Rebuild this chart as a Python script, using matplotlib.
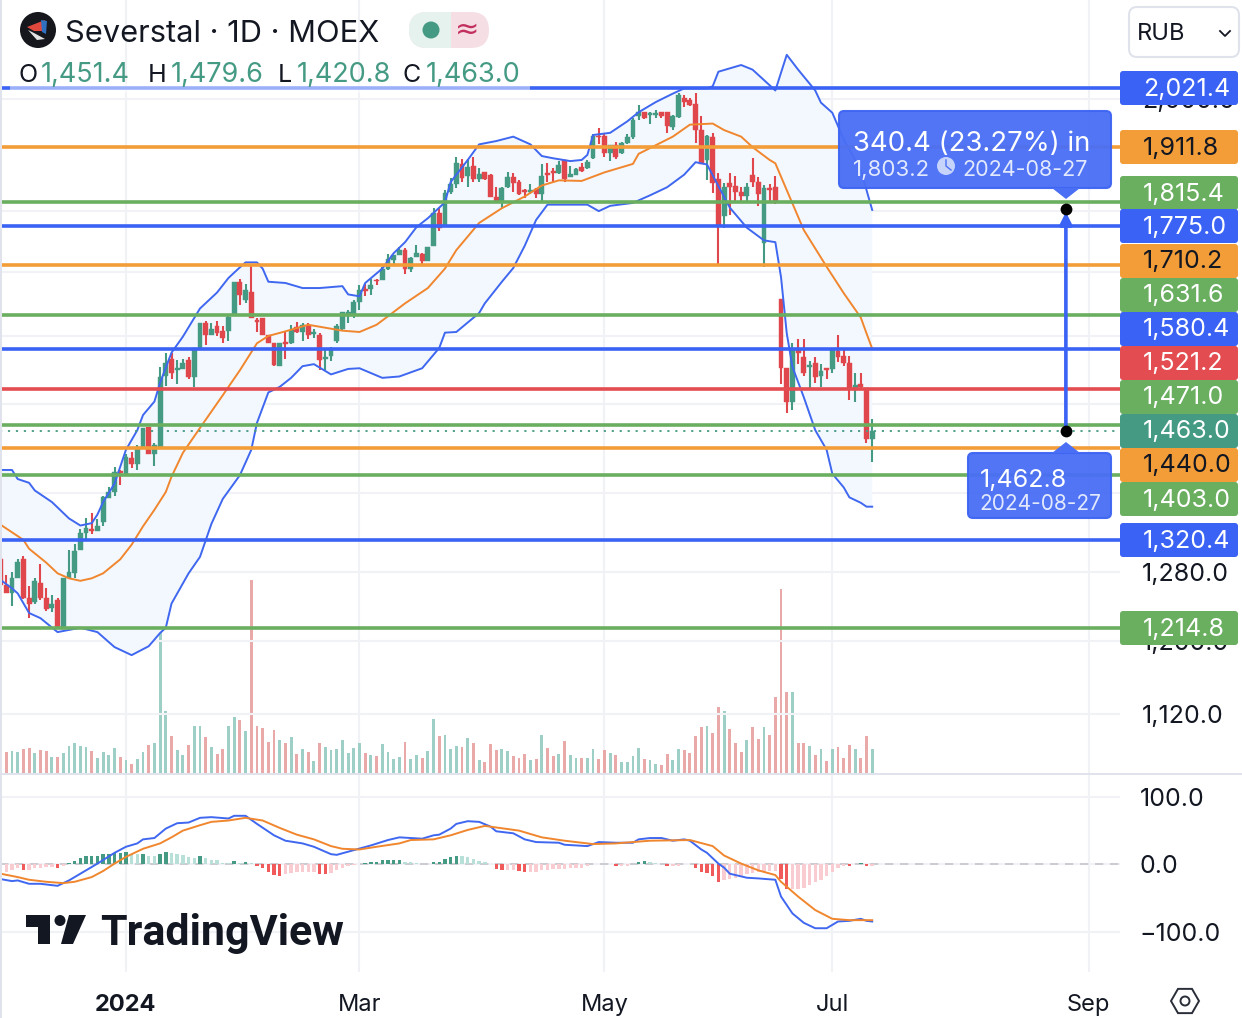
#! /usr/bin/env python

import numpy as np
import matplotlib
matplotlib.use('Agg')
import matplotlib.pyplot as plt
from matplotlib.patches import FancyBboxPatch, Rectangle, Circle, Polygon
from matplotlib.ticker import NullLocator

W, H = 1242, 1018
plt.rcParams['font.family'] = ['Inter', 'DejaVu Sans']

# first bar is the one cut off by the left edge, it has index -1
opens = [1297,
         1265,1255,1273,1297,1250,1245,1267,1249,1238,1247,
         1214,1273,1279,1308,1328,1334,1331,1342,1373,1381,
         1409,1403,1426,1418,1441,1468,1432,1441,1541,1565,
         1550,1551,1564,1539,1582,1619,1602,1615,1607,1607,
         1632,1684,1655,1667,1624,1627,1601,1590,1555,1591,
         1590,1613,1606,1615,1603,1601,1566,1570,1592,1610,
         1634,1634,1652,1673,1672,1687,1686,1704,1719,1727,
         1735,1704,1724,1728,1717,1741,1796,1776,1832,1847,
         1881,1860,1878,1856,1867,1862,1824,1815,1841,1859,
         1851,1836,1832,1838,1829,1866,1869,1866,1889,1859,
         1862,1876,1875,1892,1933,1932,1901,1916,1901,1919,
         1930,1969,1976,1971,1971,1976,1976,1948,1967,2002,
         1998,1991,1943,1889,1930,1855,1791,1848,1843,1832,
         1825,1862,1850,1746,1840,1841,1656,1553,1503,1580,
         1568,1554,1560,1541,1552,1551,1577,1570,1560,1520,
         1529,1523,1451.4]
closes = [1265,
          1255,1273,1293,1250,1243,1270,1250,1237,1243,1214,
          1273,1281,1306,1328,1335,1331,1338,1374,1381,1407,
          1406,1427,1418,1441,1467,1432,1443,1539,1560,1545,
          1552,1560,1539,1582,1619,1602,1611,1605,1597,1629,
          1684,1663,1671,1627,1621,1601,1589,1557,1589,1588,
          1609,1606,1617,1601,1606,1564,1569,1580,1615,1636,
          1637,1652,1671,1669,1679,1685,1704,1720,1727,1735,
          1704,1722,1730,1717,1740,1796,1772,1831,1847,1883,
          1858,1876,1855,1865,1855,1824,1815,1840,1859,1848,
          1830,1832,1836,1829,1860,1862,1866,1880,1855,1864,
          1873,1870,1885,1932,1930,1901,1916,1895,1919,1930,
          1961,1976,1965,1974,1975,1969,1950,1969,2008,1996,
          1989,1943,1882,1932,1848,1776,1841,1841,1832,1825,
          1841,1851,1830,1840,1836,1817,1553,1503,1580,1574,
          1545,1557,1539,1548,1549,1579,1568,1560,1522,1527,
          1525,1451.4,1463]
highs = [1299,
         1277,1280,1297,1300,1264,1273,1290,1261,1253,1249,
         1273,1308,1315,1334,1348,1354,1346,1376,1387,1414,
         1410,1431,1434,1444,1467,1468,1446,1554,1574,1574,
         1564,1565,1568,1582,1620,1622,1619,1622,1615,1630,
         1684,1688,1681,1711,1628,1627,1601,1590,1589,1607,
         1617,1621,1620,1620,1610,1604,1580,1583,1618,1636,
         1640,1655,1679,1681,1688,1688,1708,1728,1727,1740,
         1738,1724,1743,1730,1740,1805,1805,1836,1857,1894,
         1891,1891,1895,1875,1868,1864,1841,1842,1868,1866,
         1853,1838,1846,1840,1881,1883,1875,1887,1889,1878,
         1875,1883,1889,1936,1947,1938,1916,1921,1921,1936,
         1966,1990,1977,1977,1981,1977,1977,1971,2012,2008,
         2002,2012,1969,1934,1938,1866,1848,1866,1861,1841,
         1848,1892,1859,1845,1847,1861,1656,1553,1589,1595,
         1595,1563,1569,1558,1552,1582,1601,1580,1570,1545,
         1545,1523,1479.6]
lows = [1265,
        1255,1240,1273,1248,1226,1243,1247,1234,1233,1214,
        1214,1273,1273,1308,1320,1327,1331,1337,1373,1376,
        1390,1403,1412,1410,1441,1432,1415,1441,1526,1536,
        1529,1551,1537,1525,1579,1586,1601,1600,1590,1592,
        1632,1647,1650,1627,1606,1601,1589,1556,1555,1566,
        1588,1605,1592,1595,1597,1549,1549,1563,1590,1608,
        1619,1627,1639,1661,1663,1679,1686,1702,1709,1727,
        1696,1699,1724,1709,1717,1741,1766,1776,1830,1839,
        1850,1841,1850,1850,1853,1824,1813,1805,1839,1832,
        1828,1822,1830,1823,1813,1850,1850,1865,1850,1859,
        1862,1868,1873,1890,1918,1894,1887,1890,1900,1917,
        1926,1961,1963,1954,1966,1966,1937,1943,1965,1985,
        1987,1919,1882,1853,1831,1711,1771,1794,1815,1813,
        1815,1841,1808,1707,1813,1812,1529,1488,1492,1558,
        1541,1521,1530,1525,1537,1545,1561,1556,1506,1503,
        1520,1447,1420.8]
volumes = [20,
           21,22,21,24,25,20,23,22,16,16,
           20,27,30,27,26,22,15,21,18,25,
           16,13,9,14,21,28,30,151,62,37,
           23,18,28,47,47,36,26,19,24,47,
           56,53,42,193,47,45,31,43,33,30,
           36,19,24,21,12,30,26,23,24,33,
           20,25,30,20,18,17,29,21,14,16,
           31,14,18,15,22,54,37,38,24,27,
           26,35,30,13,11,29,23,24,22,17,
           15,19,13,14,38,25,17,19,32,18,
           15,15,15,24,14,23,20,18,11,11,
           17,25,14,13,9,8,19,13,24,23,
           20,37,46,47,40,66,62,44,30,21,
           33,46,34,46,38,76,184,81,81,30,
           30,27,18,24,12,24,26,15,28,24,
           15,37,24]
hist = [-12,
        -11,-9,-6,-8,-8,-5,-5,-4,-4,-6,
        -2,2,5,10,12,13,13,15,16,17,
        17,18,16,15,16,13,12,16,18,17,
        16,14,11,10,12,10,7,6,2.5,1.5,
        5,2.5,4,2,-3,-6,-12,-16,-18,-15,
        -13,-12,-11,-11,-11,-14,-15,-13,-9,-6,
        -3,-1.5,1,2,4,4,6,7,7,7,
        4,3,2,1,1,4,4,8,11,13,
        12,11,8,5,3,1,-7,-8,-8,-8,
        -10,-11,-11,-11,-9,-8,-7,-7,-7,-5,
        -5,-5,-3,1,1,1,1,-2,-2,-2,
        1,4,5,4,2,1,-3,-3,-2,1,
        1,-6,-11,-13,-18,-26,-24,-22,-21,-19,
        -15,-13,-12,-12,-10,-10,-22,-37,-37,-36,
        -35,-31,-27,-24,-18,-12,-5,-2,-3,1,
        2,-3,-3]

upper_i = [-1,1,2,4,5,8,9,11,13,15,16,17,19,21,23,24,26,27,28,29,31,34,37,39,41,42,44,45,46,49,
           52,55,59,60,62,63,66,68,70,72,74,77,78,81,83,86,89,92,94,96,99,101,102,103,106,109,
           111,114,117,119,121,123,124,125,129,131,135,137,139,142,143,145,147,150,152]
upper = [1410,1410,1398,1393,1383,1368,1361,1347,1338,1341,1352,1368,1392,1437,1464,1485,1504,1531,
         1553,1575,1599,1642,1667,1690,1707,1715,1715,1705,1684,1682,1674,1674,1677,1664,1661,1682,
         1705,1730,1748,1773,1788,1815,1850,1889,1917,1923,1931,1917,1896,1892,1887,1889,1898,1934,
         1938,1959,1976,1995,2011,2021,2021,2021,2025,2053,2066,2057,2017,2086,2057,2017,1994,1975,
         1926,1871,1802]
lower_i = [-1,1,2,4,6,9,13,16,19,22,25,27,28,29,32,34,36,38,41,43,44,46,48,50,52,54,57,60,62,66,69,
           73,76,77,79,83,84,87,89,91,93,95,102,104,106,110,113,116,119,121,123,127,130,133,135,136,
           137,138,140,142,144,145,147,148,150,151,152]
lower = [1271,1261,1255,1232,1226,1210,1215,1210,1193,1184,1194,1209,1215,1243,1279,1299,1340,1372,
         1403,1437,1474,1517,1525,1538,1555,1558,1543,1551,1552,1538,1540,1552,1582,1605,1606,1635,
         1650,1684,1706,1742,1785,1811,1811,1800,1809,1814,1827,1841,1863,1885,1881,1806,1772,1751,
         1748,1691,1604,1554,1510,1464,1437,1405,1387,1374,1367,1362,1362]
basis_i = [-1,3,4,7,9,11,13,15,17,20,22,24,26,28,29,31,34,38,41,44,46,49,53,55,59,62,65,67,70,74,77,
           79,83,87,91,94,97,101,105,110,111,117,120,124,126,129,131,134,135,137,140,144,147,150,151,152]
basis = [1339,1320,1309,1292,1279,1273,1270,1273,1279,1296,1314,1337,1358,1381,1401,1433,1467,1513,
         1549,1589,1600,1607,1617,1614,1608,1606,1617,1630,1650,1674,1705,1735,1780,1805,1825,1844,
         1853,1852,1867,1882,1900,1931,1953,1955,1943,1931,1912,1889,1883,1836,1768,1708,1666,1628,
         1604,1581]

macd_i = [-1,1,2,4,6,9,11,14,16,19,21,23,24,26,28,30,32,34,36,39,40,42,44,47,49,52,54,57,58,61,64,67,
          69,73,75,76,78,79,81,83,85,86,89,91,93,97,98,102,104,107,110,111,113,115,117,119,120,122,
          123,125,126,127,130,132,135,136,138,140,142,144,146,148,150,151,152]
macd = [-22,-25,-24,-29,-29,-32,-24,-9,1,17,26,31,37,39,53,61,62,69,70,68,72,72,60,43,35,31,26,15,14,
        21,28,36,40,38,43,44,53,60,64,63,56,49,46,37,33,32,29,27,33,32,32,37,39,39,35,37,35,22,17,1,
        -5,-14,-20,-21,-23,-48,-73,-87,-95,-95,-85,-84,-81,-84,-85]
signal_i = [-1,2,4,7,10,12,15,17,19,21,24,27,29,31,34,36,39,42,45,48,51,54,57,59,62,65,69,71,75,78,81,
            84,90,94,98,103,107,113,120,124,126,129,132,135,136,139,142,145,148,150,152]
signal = [-14,-19,-23,-26,-28,-26,-19,-10,1,11,23,31,40,50,58,63,65,69,65,54,44,37,27,23,22,26,31,36,
          37,43,51,57,50,40,35,30,31,35,36,27,13,1,-9,-16,-26,-48,-68,-81,-83,-83,-83]

levels = [2021.4,1911.8,1815.4,1775.0,1710.2,1631.6,1580.4,1521.2,1471.0,1440.0,1403.0,1320.4,1214.8]
level_kinds = ['blue','orange','green','blue','orange','green','blue','red','green','orange','green','blue','green']
last_price = 1463.0
projection_from = 1462.8
projection_to = 1803.2
projection_bar = 186

tick_bars = [21,62,105,145,190]
tick_names = ['2024','Mar','May','Jul','Sep']
price_ticks = [1120,1200,1280,1380,1500,1600,1700,1800,2000]
price_tick_labels = ['1,120.0','1,200.0','1,280.0','','','','','','2,000.0']
macd_ticks = [100,0,-100]

kinds = {'blue':'#3a62f4','orange':'#f29d38','green':'#6aae60','red':'#e34c50'}
up, down = '#459a84', '#e0474c'
text_dark = '#131722'
grid_c = '#f1f2f5'

fig = plt.figure(figsize=(W/100,H/100), dpi=100, facecolor='white')
def pane(top, bottom):
    return fig.add_axes([0, 1-bottom/H, 1120/W, (bottom-top)/H])

n = len(closes)
bars = np.arange(n) - 1
xlim = (-1.106, 195.5)

# volume sits under the candles in the same pane
ax_vol = pane(0, 775)
ax = pane(0, 775)
ax_m = pane(775, 972)
ax.patch.set_visible(False)
for a in (ax_vol, ax, ax_m):
    a.set_xlim(xlim)
    for s in a.spines.values():
        s.set_visible(False)
    a.tick_params(length=0)

o, c, hi, lo = map(np.array, (opens, closes, highs, lows))
rising = c >= o

ax_vol.set_ylim(-2, 773)
ax_vol.set_yticks([])
ax_vol.set_xticks(tick_bars)
ax_vol.set_xticklabels([])
ax_vol.grid(axis='x', color=grid_c, lw=1.5)
ax_vol.set_axisbelow(True)
ax_vol.bar(bars, volumes, width=0.5, color=np.where(rising, '#9dcfc6', '#e9a9a9'))

ax.set_yscale('log')
ax.set_ylim(1057.4, 2196.7)
ax.yaxis.tick_right()
ax.yaxis.set_major_locator(plt.FixedLocator(price_ticks))
ax.yaxis.set_minor_locator(NullLocator())
ax.set_yticklabels(price_tick_labels, fontsize=18, color=text_dark, ha='left')
ax.tick_params(axis='y', pad=16, which='both', length=0)
ax.set_xticks([])
for t in price_ticks:
    ax.axhline(t, color=grid_c, lw=1.5, zorder=0.5)

# bollinger band
ax.fill(np.r_[upper_i, lower_i[::-1]], np.r_[upper, lower[::-1]], color='#f3f8fe', lw=0, zorder=1)
ax.vlines(bars, lo, hi, colors=np.where(rising, up, down), lw=1.5, zorder=2)
ax.bar(bars, np.abs(c-o), bottom=np.minimum(c, o), width=0.85, color=np.where(rising, up, down),
       edgecolor=np.where(rising, up, down), lw=0.3, zorder=2.1)
ax.plot(upper_i, upper, color='#3f67f0', lw=1.4, zorder=3)
ax.plot(lower_i, lower, color='#3f67f0', lw=1.4, zorder=3)
ax.plot(basis_i, basis, color='#f0862e', lw=1.4, zorder=3)

for lvl, kind in zip(levels, level_kinds):
    ax.axhline(lvl, color=kinds[kind], lw=2.6, zorder=4)
ax.axhline(last_price, color=up, lw=1.3, ls=(0, (1.2, 3.2)), zorder=4)

ax.annotate('', xy=(projection_bar, projection_to), xytext=(projection_bar, projection_from),
            arrowprops=dict(arrowstyle='-|>', color='#3a62f4', lw=2.6, shrinkA=0, shrinkB=2, mutation_scale=18),
            zorder=5)
ax.plot([projection_bar]*2, [projection_from, projection_to], 'o', ms=8.5, color='black', mew=0, zorder=6)

ax_m.set_ylim(-160, 132.6)
ax_m.yaxis.tick_right()
ax_m.set_yticks(macd_ticks)
ax_m.set_yticklabels(['100.0','0.0','\u2212100.0'], fontsize=18, color=text_dark, ha='left')
ax_m.tick_params(axis='y', pad=14)
ax_m.set_xticks(tick_bars)
ax_m.set_xticklabels(tick_names, fontsize=17, color=text_dark)
ax_m.get_xticklabels()[0].set_fontweight('bold')
ax_m.tick_params(axis='x', pad=15.5)
ax_m.grid(color=grid_c, lw=1.5)
ax_m.set_axisbelow(True)
ax_m.axhline(0, color='#c4c6cc', lw=1.2, ls=(0, (5, 4)), zorder=1)

h = np.array(hist, dtype=float)
prev = np.r_[h[0], h[:-1]]
colors = np.where(h >= 0, np.where(h >= prev, '#459a84', '#b9e0d8'),
                  np.where(h >= prev, '#f9ccd2', '#f05a5a'))
ax_m.bar(bars, h, width=0.6, color=colors, zorder=2)
ax_m.plot(macd_i, macd, color='#3f67f0', lw=1.4, zorder=3)
ax_m.plot(signal_i, signal, color='#f0862e', lw=1.4, zorder=3)

# everything below is layout on top of the panes, in pixels
ov = fig.add_axes([0, 0, 1, 1], zorder=5)
ov.set_xlim(0, W)
ov.set_ylim(H, 0)
ov.axis('off')

ov.add_patch(Rectangle((0, 0), 2, H, color='#e0e3eb', lw=0))
ov.plot([0, W], [774, 774], color='#e0e3eb', lw=1.4)
ov.add_patch(Rectangle((10, 83), 520, 10, color='white', alpha=0.5, lw=0))

# price tags
tag_text = ['2,021.4','1,911.8','1,815.4','1,775.0','1,710.2','1,631.6','1,580.4','1,521.2','1,471.0',
            '1,463.0','1,440.0','1,403.0','1,320.4','1,214.8']
tag_kind = ['blue','orange','green','blue','orange','green','blue','red','green','teal','orange','green','blue','green']
tag_top = [71,130,176,209,244,278,312,346,380,414,448,482,523,611]
tag_cols = dict(kinds, teal=up)
for txt, kind, top in zip(tag_text, tag_kind, tag_top):
    ov.add_patch(FancyBboxPatch((1120, top), 118, 34, boxstyle='round,pad=0,rounding_size=3',
                                fc=tag_cols[kind], ec='none'))
    ov.text(1143, top+24.5, txt, ha='left', va='baseline', fontsize=18,
            color=text_dark if kind == 'orange' else 'white')

# tooltips
tip_c = '#4a6ff5'
ov.add_patch(FancyBboxPatch((839, 111), 272, 77, boxstyle='round,pad=0,rounding_size=5',
                            fc=tip_c, ec='#3f66f3', lw=1.5, alpha=0.96))
ov.add_patch(Polygon([(1052, 188), (1080, 188), (1066, 199)], fc=tip_c, ec='none'))
ov.text(853, 151, '340.4 (23.27%) in', color='white', fontsize=19.8, va='baseline')
ov.text(853, 176, '1,803.2', color='#e3e9fd', fontsize=16, va='baseline')
ov.add_patch(Circle((946, 166), 9, fc='#c6d3fb', ec='none'))
ov.plot([946, 946, 951], [160, 166, 170], color=tip_c, lw=1)
ov.text(962, 176, '2024-08-27', color='#e3e9fd', fontsize=15.5, va='baseline')

ov.add_patch(FancyBboxPatch((968, 453), 143, 65, boxstyle='round,pad=0,rounding_size=5',
                            fc=tip_c, ec='#3f66f3', lw=1.5, alpha=0.96))
ov.add_patch(Polygon([(1052, 453), (1080, 453), (1066, 442)], fc=tip_c, ec='none'))
ov.text(980, 487, '1,462.8', color='white', fontsize=18, va='baseline')
ov.text(979, 510, '2024-08-27', color='#e3e9fd', fontsize=15, va='baseline')

# header
ov.add_patch(Circle((38, 30), 18, fc='#15171c', ec='none'))
ov.add_patch(Polygon([(27, 27), (45, 20), (43, 31), (34, 31)], fc='#e0483e', ec='none'))
ov.add_patch(Polygon([(41, 20), (47, 21), (46, 34), (42, 32)], fc='#2f70c0', ec='none'))
ov.add_patch(Polygon([(28, 30), (34, 33), (45, 39), (37, 40)], fc='#e3e3e3', ec='none'))
ov.text(65, 42, 'Severstal \u00b7 1D \u00b7 MOEX', fontsize=22.2, color=text_dark, va='baseline')
ov.add_patch(FancyBboxPatch((409, 12), 80, 36, boxstyle='round,pad=0,rounding_size=18', fc='#f6dee5', ec='none'))
pill = FancyBboxPatch((409, 12), 80, 36, boxstyle='round,pad=0,rounding_size=18', fc='#e6f2ee', ec='none')
ov.add_patch(pill)
pill.set_clip_path(Rectangle((409, 12), 42, 36, transform=ov.transData))
ov.add_patch(Circle((431, 30), 8.5, fc=up, ec='none'))
ov.text(467, 30, '\u2248', fontsize=21, color='#c2305f', ha='center', va='center', family='DejaVu Sans')

ohlc_x = [18, 148, 278, 403]
ohlc_name = ['O', 'H', 'L', 'C']
ohlc_val = ['1,451.4', '1,479.6', '1,420.8', '1,463.0']
ohlc_vx = [41, 171, 297, 426]
for a, b, s, v in zip(ohlc_x, ohlc_vx, ohlc_name, ohlc_val):
    ov.text(a, 82, s, fontsize=18, color=text_dark, va='baseline')
    ov.text(b, 82, v, fontsize=19.5, color=up, va='baseline')

ov.add_patch(FancyBboxPatch((1129, 7), 110, 50, boxstyle='round,pad=0,rounding_size=8',
                            fc='white', ec='#e0e3eb', lw=1.5))
ov.text(1137, 40, 'RUB', fontsize=17, color=text_dark, va='baseline')
ov.plot([1220, 1225, 1230], [31, 36, 31], color=text_dark, lw=1.3)

# watermark
logo = '#131722'
ov.add_patch(Polygon([(26, 915), (50, 915), (50, 944), (38, 944), (38, 927), (26, 927)], fc=logo, ec='none'))
ov.add_patch(Circle((60, 920.5), 5.5, fc=logo, ec='none'))
ov.add_patch(Polygon([(69, 915), (86, 915), (73, 944), (61, 944)], fc=logo, ec='none'))
ov.text(100, 945, 'TradingView', fontsize=31, fontweight='bold', color=logo, va='baseline', family='Roboto')

# settings icon
ang = np.deg2rad(np.arange(0, 360, 60))
ov.add_patch(Polygon(np.c_[1185+14*np.cos(ang), 1001+14*np.sin(ang)], fc='none', ec='#2a2e39', lw=1.4))
ov.add_patch(Circle((1185, 1001), 4.5, fc='none', ec='#2a2e39', lw=1.4))

plt.savefig('out.png', dpi=100)
